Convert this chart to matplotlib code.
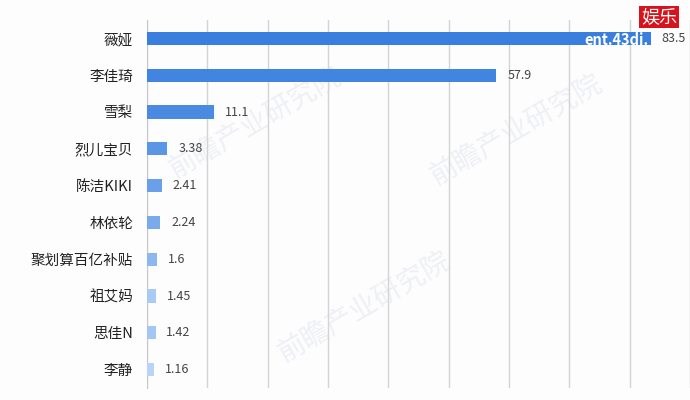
import matplotlib
matplotlib.use("Agg")
import matplotlib.pyplot as plt
import numpy as np

plt.rcParams['font.family'] = ['Noto Sans CJK SC', 'DejaVu Sans']

# data
names = ["薇娅", "李佳琦", "雪梨", "烈儿宝贝", "陈洁KIKI", "林依轮",
         "聚划算百亿补贴", "祖艾妈", "思佳N", "李静"]
values = [83.5, 57.9, 11.1, 3.38, 2.41, 2.24, 1.6, 1.45, 1.42, 1.16]
value_labels = ["83.5", "57.9", "11.1", "3.38", "2.41", "2.24", "1.6", "1.45", "1.42", "1.16"]
colors = ["#3b7fde", "#4285e0", "#4a8ae2", "#5b96e6", "#69a0e9", "#78aaec",
          "#8cb7ef", "#a9caf3", "#a3c6f2", "#b8d4f6"]

fig = plt.figure(figsize=(6.9, 4.0), dpi=100)
fig.patch.set_facecolor("#fdfdfd")
ax = fig.add_axes([0.213, 0.03, 0.787, 0.92])
ax.set_facecolor("#fdfdfd")

y = np.arange(len(names))
ax.barh(y, values, height=0.36, color=colors, zorder=3)

for yi, v, lab in zip(y, values, value_labels):
    ax.text(v + 1.8, yi, lab, va="center", ha="left", fontsize=9, color="#444444", zorder=4)

ax.set_xlim(0, 90)
ax.set_ylim(len(names) - 0.5, -0.5)
ax.set_yticks(y)
ax.set_yticklabels(names, fontsize=10.5, color="#222222")
ax.set_xticks(np.arange(0, 91, 10))
ax.tick_params(axis="x", length=0, labelbottom=False)
ax.tick_params(axis="y", length=0, pad=10)
ax.grid(axis="x", color="#d4d4d4", linewidth=1.0, zorder=0)
for s in ["top", "right", "bottom"]:
    ax.spines[s].set_visible(False)
ax.spines["left"].set_color("#c8c8c8")

# faint watermarks behind the bars
for wx, wy in [(0.2, 0.72), (0.68, 0.7), (0.4, 0.22)]:
    ax.text(wx, wy, "前瞻产业研究院", transform=ax.transAxes, fontsize=20, color="#eef0f5",
            rotation=30, ha="center", va="center", zorder=1)

# site badge top right
fig.text(0.955, 0.958, "娱乐", fontsize=13, color="white", ha="center", va="center",
         bbox=dict(boxstyle="square,pad=0.12", fc="#d7141c", ec="none"))
fig.text(0.94, 0.9, "ent.43di.", fontsize=10.5, color="white", ha="right", va="center",
         fontweight="bold", zorder=10)

fig.savefig("out.png", dpi=100, facecolor=fig.get_facecolor())
